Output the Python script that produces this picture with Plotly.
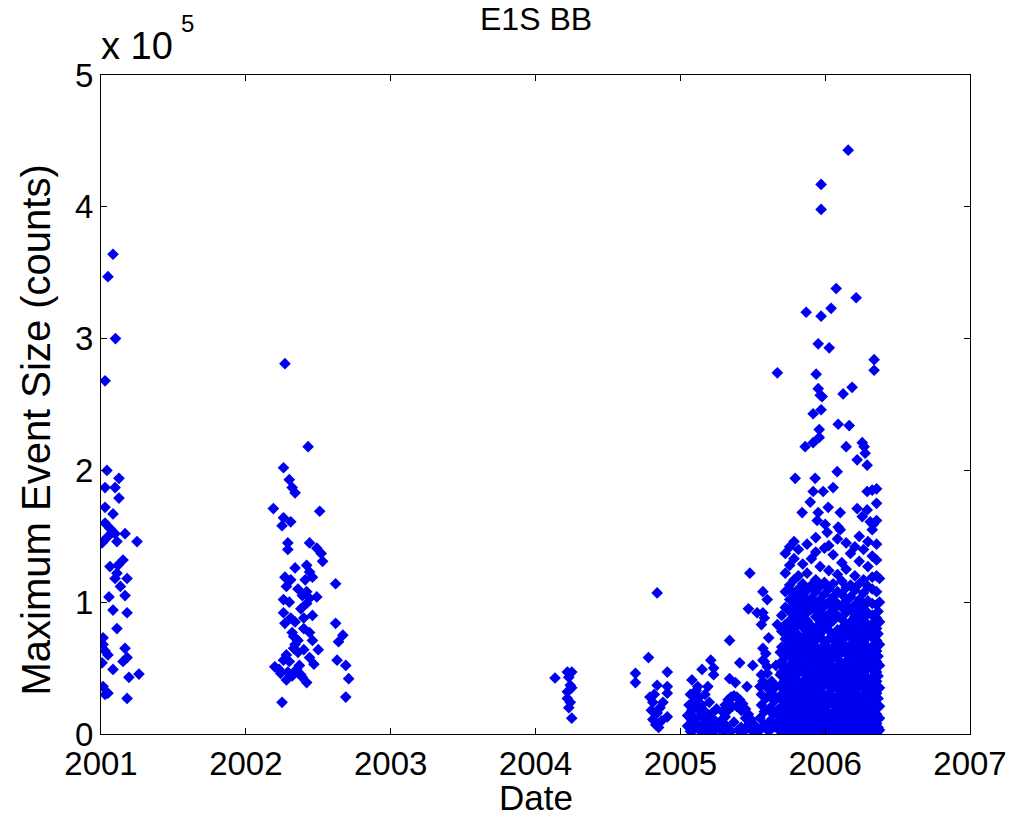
import plotly.graph_objects as go

# Event sizes are stored in units of 1e5 counts (the y axis carries the "x 10^5" multiplier).
# Dates are decimal years.

# 2001 campaign
dates_2001 = [2001.083, 2001.048, 2001.100, 2001.028, 2001.041, 2001.124, 2001.028, 2001.097,
              2001.124, 2001.028, 2001.083, 2001.028, 2001.076, 2001.097, 2001.166, 2001.249,
              2001.007, 2001.041, 2001.110, 2001.152, 2001.062, 2001.117, 2001.110, 2001.097,
              2001.180, 2001.055, 2001.166, 2001.083, 2001.180, 2001.110, 2001.014, 2001.014,
              2001.028, 2001.048, 2001.166, 2001.180, 2001.152, 2001.007, 2001.083, 2001.193,
              2001.262, 2001.014, 2001.048, 2001.028, 2001.180, 2001.062, 2001.134]
sizes_2001 = [3.64, 3.47, 3.00, 2.68, 2.00, 1.94, 1.87, 1.87,
              1.79, 1.72, 1.67, 1.60, 1.53, 1.52, 1.52, 1.46,
              1.45, 1.49, 1.46, 1.32, 1.27, 1.28, 1.22, 1.18,
              1.18, 1.04, 1.05, 0.94, 0.92, 0.80, 0.73, 0.68,
              0.63, 0.60, 0.65, 0.58, 0.55, 0.54, 0.49, 0.43,
              0.455, 0.36, 0.31, 0.30, 0.27, 1.56, 1.12]

# 2002 campaign
dates_2002 = [2002.27, 2002.43, 2002.26, 2002.30, 2002.32, 2002.34, 2002.19, 2002.51,
              2002.26, 2002.31, 2002.25, 2002.29, 2002.29, 2002.44, 2002.49, 2002.52,
              2002.53, 2002.34, 2002.42, 2002.44, 2002.46, 2002.27, 2002.31, 2002.28,
              2002.62, 2002.42, 2002.39, 2002.44, 2002.26, 2002.49, 2002.42, 2002.26,
              2002.31, 2002.34, 2002.27, 2002.46, 2002.32, 2002.33, 2002.36, 2002.44,
              2002.46, 2002.62, 2002.67, 2002.64, 2002.40, 2002.50, 2002.44, 2002.33,
              2002.26, 2002.20, 2002.24, 2002.29, 2002.35, 2002.39, 2002.42, 2002.63,
              2002.69, 2002.71, 2002.69, 2002.25, 2002.28, 2002.30, 2002.37, 2002.32,
              2002.28, 2002.36, 2002.40, 2002.38, 2002.30, 2002.36, 2002.41, 2002.40,
              2002.47, 2002.34, 2002.23, 2002.38]
sizes_2002 = [2.81, 2.18, 2.02, 1.93, 1.87, 1.83, 1.71, 1.69,
              1.64, 1.61, 1.58, 1.45, 1.40, 1.45, 1.41, 1.37,
              1.31, 1.26, 1.28, 1.23, 1.19, 1.19, 1.17, 1.12,
              1.14, 1.08, 1.05, 1.03, 1.02, 1.04, 0.99, 0.92,
              0.88, 0.85, 0.84, 0.90, 0.77, 0.74, 0.71, 0.77,
              0.71, 0.84, 0.75, 0.70, 0.64, 0.64, 0.58, 0.65,
              0.56, 0.51, 0.46, 0.47, 0.49, 0.43, 0.39, 0.56,
              0.52, 0.42, 0.28, 0.24, 0.60, 0.55, 0.52, 0.44,
              0.41, 0.62, 0.80, 0.95, 1.00, 1.10, 1.17, 0.88,
              0.53, 0.68, 0.49, 0.45]

# 2004 campaign
dates_2004 = [2004.135, 2004.22, 2004.25, 2004.23, 2004.24, 2004.25, 2004.22, 2004.24,
              2004.23, 2004.25, 2004.22,
              2004.69, 2004.69, 2004.78, 2004.84, 2004.91, 2004.84, 2004.91, 2004.91,
              2004.79, 2004.81, 2004.86, 2004.88, 2004.84, 2004.81, 2004.91, 2004.83,
              2004.85, 2004.80, 2004.87, 2004.82]
sizes_2004 = [0.425, 0.47, 0.47, 0.43, 0.37, 0.35, 0.27, 0.24,
              0.20, 0.12, 0.32,
              0.46, 0.39, 0.58, 1.07, 0.47, 0.37, 0.36, 0.31,
              0.28, 0.24, 0.20, 0.24, 0.16, 0.11, 0.13, 0.07,
              0.05, 0.18, 0.10, 0.30]

# early-to-mid 2005
dates_2005 = [2005.08, 2005.15, 2005.21, 2005.23, 2005.23, 2005.12, 2005.19, 2005.34,
              2005.41, 2005.50, 2005.34, 2005.38, 2005.46, 2005.48, 2005.57, 2005.60,
              2005.47, 2005.53, 2005.57, 2005.58, 2005.56, 2005.67, 2005.61, 2005.57,
              2005.59, 2005.57, 2005.60, 2005.56, 2005.55, 2005.67,
              2005.05, 2005.05, 2005.06, 2005.07, 2005.08, 2005.08, 2005.09, 2005.10,
              2005.10, 2005.11, 2005.12, 2005.12, 2005.13, 2005.14, 2005.14, 2005.15,
              2005.16, 2005.17, 2005.17, 2005.18, 2005.19, 2005.20, 2005.21, 2005.22,
              2005.23, 2005.24, 2005.25, 2005.25, 2005.07, 2005.11, 2005.16, 2005.20,
              2005.27, 2005.28, 2005.29, 2005.31, 2005.33, 2005.35, 2005.37, 2005.39,
              2005.41, 2005.43, 2005.45, 2005.47, 2005.49, 2005.51, 2005.53, 2005.29,
              2005.31, 2005.33, 2005.36, 2005.39, 2005.42, 2005.45, 2005.47, 2005.35,
              2005.40, 2005.44, 2005.32, 2005.37, 2005.42, 2005.49, 2005.30, 2005.51,
              2005.55, 2005.55, 2005.56, 2005.56, 2005.57, 2005.58, 2005.58, 2005.59,
              2005.60, 2005.60, 2005.61, 2005.62, 2005.62, 2005.63, 2005.64, 2005.64,
              2005.65, 2005.66, 2005.66, 2005.67, 2005.68, 2005.68, 2005.69, 2005.69,
              2005.69, 2005.63, 2005.66, 2005.58]
sizes_2005 = [0.41, 0.49, 0.56, 0.50, 0.45, 0.36, 0.36, 0.71,
              0.54, 0.52, 0.42, 0.39, 0.36, 1.22, 1.08, 1.02,
              0.95, 0.92, 0.92, 0.88, 0.83, 0.83, 0.73, 0.65,
              0.61, 0.56, 0.51, 0.45, 0.36, 2.74,
              0.06, 0.14, 0.22, 0.30, 0.10, 0.18, 0.03, 0.25,
              0.12, 0.33, 0.07, 0.19, 0.28, 0.02, 0.14, 0.22,
              0.09, 0.17, 0.30, 0.04, 0.12, 0.24, 0.07, 0.16,
              0.02, 0.10, 0.19, 0.04, 0.02, 0.05, 0.03, 0.02,
              0.04, 0.10, 0.17, 0.22, 0.26, 0.28, 0.29, 0.28,
              0.26, 0.23, 0.19, 0.15, 0.11, 0.07, 0.04, 0.05,
              0.13, 0.18, 0.21, 0.21, 0.18, 0.12, 0.07, 0.02,
              0.03, 0.02, 0.06, 0.09, 0.05, 0.03, 0.02, 0.02,
              0.03, 0.12, 0.22, 0.30, 0.40, 0.07, 0.17, 0.27,
              0.35, 0.46, 0.02, 0.10, 0.20, 0.31, 0.05, 0.15,
              0.25, 0.08, 0.36, 0.18, 0.03, 0.28, 0.12, 0.45,
              0.62, 0.40, 0.52, 0.55]

# late 2005 - 2006: large sparse events
dates_2006_hi = [2006.159, 2005.972, 2005.972, 2006.076, 2006.214, 2005.869, 2005.972, 2006.041,
                 2005.952, 2006.028, 2006.338, 2006.338, 2005.938, 2005.952, 2005.966, 2005.979,
                 2006.186, 2006.124, 2005.917, 2005.972, 2005.959, 2005.959, 2005.917, 2005.862,
                 2006.090, 2006.166, 2006.145, 2006.256, 2006.269, 2006.276, 2006.221, 2006.290,
                 2005.793, 2005.931, 2006.083, 2005.917, 2005.986, 2006.055, 2006.290, 2006.325,
                 2005.897, 2005.841, 2005.952, 2006.021, 2006.104, 2006.221, 2006.290, 2006.256,
                 2006.311, 2006.331, 2005.945, 2006.000, 2006.090, 2006.014, 2006.104]
sizes_2006_hi = [4.43, 4.17, 3.98, 3.38, 3.31, 3.20, 3.17, 3.23,
                 2.96, 2.93, 2.84, 2.76, 2.73, 2.62, 2.57, 2.56,
                 2.63, 2.58, 2.43, 2.46, 2.31, 2.25, 2.21, 2.18,
                 2.35, 2.34, 2.18, 2.21, 2.18, 2.13, 2.08, 2.04,
                 1.94, 1.94, 1.99, 1.84, 1.84, 1.87, 1.84, 1.85,
                 1.76, 1.68, 1.68, 1.72, 1.68, 1.71, 1.70, 1.65,
                 1.61, 1.59, 1.62, 1.59, 1.57, 1.53, 1.55]

# late 2005 - 2006: dense body of events, grouped by date
body_dates = [2005.700, 2005.725, 2005.755, 2005.785, 2005.815, 2005.845, 2005.875, 2005.905,
              2005.935, 2005.965, 2005.995, 2006.025, 2006.055, 2006.085, 2006.115, 2006.145,
              2006.175, 2006.205, 2006.235, 2006.265, 2006.295, 2006.325, 2006.355, 2006.375]
body_sizes = [
    [0.02, 0.08, 0.15, 0.21, 0.30, 0.38, 0.47, 0.55, 0.66, 0.78, 0.90],
    [0.05, 0.12, 0.19, 0.26, 0.33, 0.41, 0.50, 0.58, 0.64, 0.72, 0.83, 0.96, 1.08, 1.22, 1.37],
    [0.01, 0.09, 0.16, 0.23, 0.30, 0.37, 0.45, 0.52, 0.60, 0.69, 0.76, 0.86, 0.93, 1.02, 1.13, 1.28, 1.42],
    [0.04, 0.11, 0.18, 0.27, 0.34, 0.42, 0.48, 0.56, 0.63, 0.72, 0.80, 0.89, 0.98, 1.06, 1.17, 1.33, 1.46],
    [0.02, 0.08, 0.14, 0.22, 0.29, 0.39, 0.46, 0.53, 0.61, 0.68, 0.75, 0.84, 0.94, 1.01, 1.10, 1.20, 1.40],
    [0.05, 0.12, 0.19, 0.25, 0.33, 0.40, 0.50, 0.57, 0.65, 0.73, 0.81, 0.88, 0.97, 1.05, 1.14, 1.29],
    [0.01, 0.07, 0.15, 0.21, 0.28, 0.36, 0.43, 0.52, 0.59, 0.70, 0.78, 0.86, 0.92, 1.00, 1.09, 1.22, 1.44],
    [0.03, 0.10, 0.17, 0.24, 0.31, 0.38, 0.47, 0.55, 0.62, 0.74, 0.82, 0.95, 1.03, 1.13, 1.33],
    [0.02, 0.08, 0.14, 0.20, 0.27, 0.35, 0.42, 0.50, 0.58, 0.66, 0.71, 0.79, 0.89, 0.98, 1.08, 1.17, 1.38, 1.49],
    [0.04, 0.11, 0.18, 0.26, 0.33, 0.40, 0.48, 0.54, 0.63, 0.76, 0.84, 0.93, 1.02, 1.12, 1.27],
    [0.01, 0.07, 0.13, 0.21, 0.29, 0.37, 0.44, 0.52, 0.60, 0.68, 0.80, 0.88, 0.97, 1.06, 1.15, 1.41],
    [0.03, 0.10, 0.16, 0.23, 0.31, 0.39, 0.46, 0.56, 0.64, 0.72, 0.83, 0.91, 1.00, 1.10, 1.24, 1.43],
    [0.02, 0.09, 0.15, 0.22, 0.28, 0.35, 0.43, 0.51, 0.58, 0.66, 0.75, 0.86, 0.95, 1.04, 1.14, 1.36],
    [0.05, 0.12, 0.19, 0.26, 0.34, 0.41, 0.49, 0.57, 0.65, 0.71, 0.79, 0.90, 0.99, 1.08, 1.21, 1.48],
    [0.01, 0.08, 0.14, 0.21, 0.30, 0.37, 0.45, 0.53, 0.62, 0.69, 0.78, 0.87, 0.96, 1.06, 1.16, 1.30],
    [0.03, 0.10, 0.17, 0.25, 0.32, 0.40, 0.48, 0.55, 0.63, 0.74, 0.82, 0.92, 1.01, 1.11, 1.25, 1.45],
    [0.02, 0.07, 0.13, 0.20, 0.27, 0.35, 0.44, 0.51, 0.60, 0.68, 0.77, 0.85, 0.94, 1.04, 1.13, 1.37],
    [0.04, 0.11, 0.18, 0.24, 0.31, 0.39, 0.47, 0.56, 0.64, 0.72, 0.81, 0.89, 0.98, 1.09, 1.20, 1.42],
    [0.01, 0.08, 0.15, 0.22, 0.29, 0.36, 0.43, 0.52, 0.59, 0.67, 0.76, 0.84, 0.93, 1.02, 1.14, 1.31, 1.50],
    [0.03, 0.09, 0.16, 0.23, 0.30, 0.38, 0.46, 0.54, 0.61, 0.70, 0.79, 0.88, 0.97, 1.07, 1.17, 1.40],
    [0.02, 0.07, 0.14, 0.21, 0.28, 0.35, 0.42, 0.50, 0.58, 0.66, 0.74, 0.83, 0.92, 1.01, 1.12, 1.27, 1.46],
    [0.04, 0.11, 0.19, 0.26, 0.33, 0.41, 0.49, 0.57, 0.64, 0.73, 0.82, 0.90, 0.99, 1.10, 1.19, 1.35, 1.55],
    [0.01, 0.08, 0.15, 0.23, 0.31, 0.40, 0.47, 0.55, 0.63, 0.71, 0.80, 0.88, 0.98, 1.08, 1.20, 1.32, 1.44, 1.62, 1.75, 1.86],
    [0.03, 0.12, 0.21, 0.35, 0.52, 0.68, 0.85, 1.00, 1.18],
]

# events between the dates above, in the crowded lower part of the body
fill_dates = [2005.712, 2005.740, 2005.770, 2005.800, 2005.830, 2005.860, 2005.890, 2005.920,
              2005.950, 2005.980, 2006.010, 2006.040, 2006.070, 2006.100, 2006.130, 2006.160,
              2006.190, 2006.220, 2006.250, 2006.280, 2006.310, 2006.340, 2006.365]
fill_sizes = [
    [0.05, 0.12, 0.25, 0.34, 0.51, 0.60],
    [0.02, 0.09, 0.16, 0.30, 0.37, 0.45, 0.61, 0.77],
    [0.05, 0.12, 0.20, 0.27, 0.41, 0.49, 0.64, 0.81, 1.08],
    [0.02, 0.08, 0.15, 0.23, 0.31, 0.45, 0.52, 0.67, 0.85],
    [0.05, 0.11, 0.18, 0.25, 0.33, 0.50, 0.57, 0.71, 0.88],
    [0.02, 0.09, 0.22, 0.29, 0.37, 0.46, 0.61, 0.69, 0.93],
    [0.04, 0.11, 0.18, 0.32, 0.40, 0.56, 0.64, 0.82],
    [0.01, 0.07, 0.14, 0.21, 0.35, 0.43, 0.51, 0.67, 0.78],
    [0.05, 0.11, 0.17, 0.24, 0.39, 0.46, 0.62, 0.75, 0.93],
    [0.02, 0.08, 0.15, 0.30, 0.37, 0.51, 0.58, 0.72],
    [0.04, 0.10, 0.17, 0.25, 0.41, 0.48, 0.64, 0.84],
    [0.01, 0.06, 0.13, 0.27, 0.35, 0.50, 0.60, 0.77],
    [0.05, 0.12, 0.18, 0.25, 0.39, 0.47, 0.62, 0.70, 0.90],
    [0.02, 0.08, 0.15, 0.30, 0.37, 0.53, 0.61, 0.75],
    [0.04, 0.11, 0.17, 0.24, 0.41, 0.49, 0.66, 0.82],
    [0.01, 0.06, 0.13, 0.28, 0.36, 0.51, 0.59, 0.78, 0.96],
    [0.04, 0.10, 0.16, 0.23, 0.39, 0.48, 0.64, 0.72],
    [0.01, 0.07, 0.14, 0.27, 0.35, 0.51, 0.60, 0.85],
    [0.05, 0.12, 0.18, 0.25, 0.40, 0.47, 0.63, 0.71],
    [0.02, 0.06, 0.12, 0.26, 0.34, 0.50, 0.57, 0.74, 0.92],
    [0.05, 0.10, 0.17, 0.31, 0.38, 0.54, 0.62, 0.78],
    [0.02, 0.07, 0.15, 0.22, 0.37, 0.45, 0.60, 0.68, 0.85],
    [0.05, 0.12, 0.27, 0.44, 0.59, 0.76, 0.93],
]

x_ticks = [2001, 2002, 2003, 2004, 2005, 2006, 2007]
y_ticks = [0, 1, 2, 3, 4, 5]

# flatten the grouped lists into point lists
grouped_x, grouped_y = [], []
for dates, groups in ((body_dates, body_sizes), (fill_dates, fill_sizes)):
    for d, vals in zip(dates, groups):
        grouped_x.extend([d] * len(vals))
        grouped_y.extend(vals)

all_dates = dates_2001 + dates_2002 + dates_2004 + dates_2005 + dates_2006_hi + grouped_x
all_sizes = sizes_2001 + sizes_2002 + sizes_2004 + sizes_2005 + sizes_2006_hi + grouped_y

FONT = "Liberation Sans, Arial, Helvetica, sans-serif"
BLUE = "#0000f0"

fig = go.Figure(go.Scatter(
    x=all_dates, y=all_sizes, mode="markers",
    marker=dict(symbol="diamond", size=9, color=BLUE, line=dict(width=0)),
    cliponaxis=True, showlegend=False,
))

axis_common = dict(
    showline=True, linecolor="black", linewidth=1.2, mirror="ticks",
    ticks="inside", ticklen=6, tickwidth=1.2, tickcolor="black",
    showgrid=False, zeroline=False,
    tickfont=dict(family=FONT, size=33, color="black"),
)

fig.update_xaxes(range=[2001, 2007], tickvals=x_ticks,
                 ticktext=[str(t) for t in x_ticks], **axis_common)
fig.update_yaxes(range=[0, 5], tickvals=y_ticks,
                 ticktext=[str(t) for t in y_ticks], **axis_common)

fig.update_layout(
    width=1021, height=834, autosize=False,
    margin=dict(l=101, r=51, t=75, b=100),
    paper_bgcolor="white", plot_bgcolor="white",
    font=dict(family=FONT, color="black"),
    annotations=[
        dict(text="E1S BB", x=0.5, y=1, xref="paper", yref="paper",
             xanchor="center", yanchor="bottom", yshift=36, showarrow=False,
             font=dict(size=32)),
        # axis multiplier: base and exponent placed separately
        dict(text="x 10", x=0, y=1, xref="paper", yref="paper",
             xanchor="left", yanchor="bottom", xshift=-2, yshift=6, showarrow=False,
             font=dict(size=38)),
        dict(text="5", x=0, y=1, xref="paper", yref="paper",
             xanchor="left", yanchor="bottom", xshift=78, yshift=36, showarrow=False,
             font=dict(size=24)),
        dict(text="Date", x=0.5, y=0, xref="paper", yref="paper",
             xanchor="center", yanchor="top", yshift=-42, showarrow=False,
             font=dict(size=35)),
        dict(text="Maximum Event Size (counts)", x=0, y=0.5, xref="paper", yref="paper",
             xanchor="right", yanchor="middle", xshift=-42, yshift=-26, showarrow=False,
             textangle=-90, font=dict(size=40)),
    ],
)

fig.write_html("out.html")
